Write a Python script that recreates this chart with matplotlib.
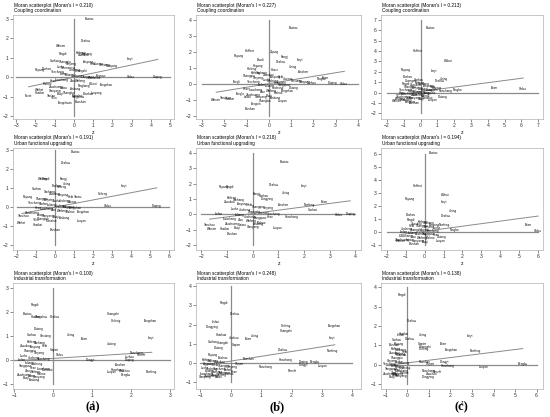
import matplotlib
matplotlib.use('Agg')
import matplotlib.pyplot as plt

plt.rcParams['font.family'] = ['Liberation Sans', 'DejaVu Sans']

# ---- data (standardized z, spatial lag Wz) ----
morans_i = [0.210, 0.227, 0.213, 0.191, 0.218, 0.194, 0.100, 0.248, 0.138]
subtitles = ["Coupling coordination"] * 3 + ["Urban functional upgrading"] * 3 + \
            ["Industrial transformation"] * 3
fit_intercepts = [0.0, 0.01, 0.1, 0.0, 0.05, 0.08, 0.08, 0.1, 0.1]
panel_letters = ["(a)", "(b)", "(c)"]

x_ticks = [range(-3, 6), range(-3, 5), range(-2, 8),
           range(-2, 7), range(-2, 5), range(-2, 7),
           range(-1, 4), range(-1, 5), range(-1, 7)]
y_ticks = [range(-2, 4), range(-2, 5), range(-2, 8),
           range(-2, 4), range(-2, 5), range(-1, 7),
           range(-1, 4), range(-1, 5), range(-1, 5)]
x_lims = [(-3.16, 5.2), (-3.27, 4.14), (-2.35, 7.28),
          (-2.21, 6.24), (-2.21, 4.22), (-2.3, 6.25),
          (-1.03, 3.11), (-1.14, 4.28), (-1.23, 6.3)]
y_lims = [(-2.15, 3.2), (-2.2, 4.3), (-2.55, 7.48),
          (-2.26, 3.12), (-2.32, 4.31), (-1.35, 6.44),
          (-1.19, 3.21), (-1.35, 4.16), (-1.25, 4.23)]

a1 = [("Baotou", 0.81, 2.98), ("Dezhou", 0.61, 1.88), ("Weinan", -0.66, 1.63), ("Pingdi", -0.57, 1.20),
      ("Kaifeng", 0.35, 1.25), ("Xuchang", 0.65, 1.20), ("Zhoukou", 0.50, 1.12), ("Linyi", 2.90, 0.92),
      ("Ordos", 2.98, 0.03), ("Daqing", 4.36, 0.03), ("Suzhou", -1.00, 0.84), ("Puyang", -1.78, 0.38),
      ("Bozhou", -1.40, 0.43), ("Anyang", 0.75, 0.78), ("Hebi", 1.00, 0.70), ("Jiaozuo", 1.30, 0.66),
      ("Xinxiang", 1.60, 0.62), ("Nanyang", 1.95, 0.58), ("Shangqiu", -0.45, 0.80), ("Xinyang", -0.15, 0.70),
      ("Luohe", -0.70, 0.52), ("Sanmenxia", -0.30, 0.45), ("Jincheng", 0.05, 0.38), ("Changzhi", 0.40, 0.32),
      ("Yuncheng", -0.85, 0.28), ("Linfen", -0.50, 0.18), ("Lvliang", -0.20, 0.12), ("Jinzhong", 0.15, 0.08),
      ("Taiyuan", 1.40, 0.07), ("Yangquan", 0.75, 0.02), ("Shuozhou", 1.05, -0.06), ("Heze", -1.05, -0.22),
      ("Liaocheng", -0.65, -0.15), ("Zibo", -0.05, -0.22), ("Weifang", 0.35, -0.18), ("Rizhao", -1.35, -0.35),
      ("Zaozhuang", -0.90, -0.48), ("Laiwu", -0.55, -0.58), ("Xianyang", -0.95, -0.72), ("Baoji", -0.70, -0.85),
      ("Weihai", -1.80, -0.65), ("Huaibei", -1.75, -0.79), ("Fuxin", -2.35, -0.99), ("Yan'an", -1.15, -0.95),
      ("Yulin", -1.00, -1.08), ("Tongchuan", -0.45, -1.32), ("Baoshan", 0.33, -1.27), ("Ankang", 0.05, -0.62),
      ("Shangluo", -0.25, -0.80), ("Tianshui", 0.20, -0.95), ("Luoyang", 1.16, -0.82), ("Tongzhou", 1.70, -0.39),
      ("Binzhou", 0.73, -0.87), ("Yangzhou", 0.26, -1.04), ("Pingliang", 0.55, -0.45), ("Wuwei", 1.00, -0.35)]

b1 = [("Baotou", 1.09, 3.48), ("Hohhot", -0.86, 2.03), ("Puyang", -1.33, 1.74), ("Ziyang", 0.26, 1.97),
      ("Baodi", -0.35, 1.49), ("Fangji", 0.71, 1.66), ("Dezhou", 0.56, 1.35), ("Linyi", 1.38, 1.51),
      ("Jining", 1.09, 1.04), ("Anshan", 1.55, 0.72), ("Huaxi", 0.24, 0.87), ("Hegang", -0.50, 1.14),
      ("Haifeng", -0.77, 0.93), ("Taian", 2.55, 0.37), ("Ningbo", 2.36, 0.27), ("Daqing", 2.85, 0.04),
      ("Ordos", 3.39, 0.00), ("Luzhou", 1.94, 0.04), ("Datong", 1.12, -0.25), ("Tongzhou", 0.85, -0.46),
      ("Luoyan", 0.62, -1.08), ("Baishan", -0.82, -1.55), ("Tongxin", -0.59, -1.26), ("Yanzhou", -1.95, -0.89),
      ("Weinan", -2.36, -1.04), ("Huaibei", -1.73, -0.97), ("Tonglu", -1.27, -0.62), ("Laiwu", -0.97, -0.83),
      ("Tongli", -1.42, 0.14), ("Kaifeng", -0.60, 0.70), ("Xuchang", -0.30, 0.65), ("Zhoukou", 0.00, 0.55),
      ("Anyang", 0.30, 0.45), ("Hebi", 0.55, 0.40), ("Jiaozuo", 0.85, 0.30), ("Xinxiang", 1.25, 0.20),
      ("Nanyang", 1.60, 0.10), ("Shangqiu", -0.90, 0.50), ("Xinyang", -0.45, 0.35), ("Luohe", -0.10, 0.25),
      ("Jincheng", 0.20, 0.15), ("Changzhi", 0.50, 0.05), ("Yuncheng", -0.70, 0.10), ("Linfen", -0.30, -0.05),
      ("Lvliang", 0.05, -0.15), ("Jinzhong", 0.40, -0.25), ("Yangquan", 0.70, -0.10), ("Heze", -1.00, -0.30),
      ("Liaocheng", -0.60, -0.40), ("Zibo", -0.25, -0.50), ("Weifang", 0.10, -0.45), ("Rizhao", 0.45, -0.55),
      ("Zaozhuang", -0.70, -0.70), ("Xianyang", -0.35, -0.85), ("Baoji", 0.00, -0.75), ("Ankang", 0.30, -0.90),
      ("Shangluo", -0.15, -1.05)]

c1 = [("Baotou", 0.58, 6.20), ("Hohhot", -0.18, 3.98), ("Wuhai", 1.63, 3.06), ("Puyang", -0.87, 2.13),
      ("Linyi", 0.78, 2.04), ("Bozhou", -0.78, 1.50), ("Jining", 1.41, 1.34), ("Dezhou", 1.13, 1.11),
      ("Guangan", -0.58, 1.11), ("Pingdi", -0.87, 0.86), ("Taian", 4.41, 0.48), ("Ordos", 6.10, 0.32),
      ("Ningbo", 2.17, 0.22), ("Nanchang", 1.47, 0.13), ("Datong", 1.31, -0.41), ("Luoyan", 0.72, -0.73),
      ("Weinan", -1.41, -0.83), ("Tongxin", -0.62, -0.89), ("Baishan", -0.36, -0.96), ("Xuzhou", -0.12, 1.24),
      ("Kaifeng", -0.05, 0.95), ("Xuchang", 0.20, 0.80), ("Zhoukou", -0.30, 0.70), ("Anyang", 0.45, 0.60),
      ("Hebi", 0.75, 0.50), ("Jiaozuo", 1.00, 0.40), ("Shangqiu", -0.60, 0.50), ("Xinyang", -0.20, 0.40),
      ("Luohe", 0.10, 0.35), ("Jincheng", 0.40, 0.25), ("Changzhi", 0.70, 0.20), ("Yuncheng", -0.90, 0.25),
      ("Linfen", -0.50, 0.15), ("Lvliang", -0.15, 0.05), ("Jinzhong", 0.20, 0.00), ("Yangquan", 0.55, -0.05),
      ("Heze", -1.10, -0.05), ("Liaocheng", -0.75, -0.15), ("Zibo", -0.40, -0.20), ("Weifang", -0.05, -0.25),
      ("Rizhao", 0.30, -0.30), ("Zaozhuang", -1.00, -0.40), ("Laiwu", -0.65, -0.50), ("Xianyang", -0.30, -0.55),
      ("Baoji", 0.05, -0.60), ("Ankang", -1.20, -0.65), ("Shangluo", -0.85, -0.70), ("Tianshui", 0.40, -0.55)]

a2 = [("Baotou", 1.06, 2.91), ("Dezhou", 0.58, 2.32), ("Weinan", -0.65, 1.51), ("Pingdi", -0.50, 1.50),
      ("Fangji", 0.45, 1.46), ("Jining", 0.62, 1.21), ("Bozhou", 0.10, 1.10), ("Kaifeng", 0.35, 1.05),
      ("Suzhou", -0.95, 0.98), ("Linyi", 3.59, 1.12), ("Suifeng", 2.49, 0.72), ("Ordos", 2.75, 0.05),
      ("Daqing", 5.34, 0.05), ("Puyang", -1.44, 0.51), ("Yantai", 1.23, 0.53), ("Tangshan", 1.06, -0.04),
      ("Tongzhou", 1.49, -0.28), ("Luoyan", 1.40, -0.74), ("Baishan", 0.01, -1.18), ("Weihai", -1.74, -0.86),
      ("Yanzhou", -1.65, -0.47), ("Huaibei", -0.92, -0.95), ("Xuchang", -0.30, 0.80), ("Zhoukou", 0.00, 0.70),
      ("Anyang", 0.40, 0.62), ("Hebi", 0.80, 0.55), ("Shangqiu", -0.70, 0.45), ("Xinyang", -0.30, 0.40),
      ("Luohe", 0.10, 0.35), ("Jincheng", 0.50, 0.30), ("Jiaozuo", 0.90, 0.25), ("Yuncheng", -1.10, 0.20),
      ("Linfen", -0.60, 0.15), ("Lvliang", -0.20, 0.10), ("Jinzhong", 0.30, 0.05), ("Yangquan", 0.70, 0.00),
      ("Heze", -0.90, -0.05), ("Liaocheng", -0.45, -0.10), ("Zibo", -0.05, -0.15), ("Weifang", 0.40, -0.20),
      ("Rizhao", 0.80, -0.25), ("Zaozhuang", -1.20, -0.30), ("Laiwu", -0.75, -0.40), ("Xianyang", -0.35, -0.45),
      ("Baoji", 0.05, -0.50), ("Ankang", 0.45, -0.55), ("Shangluo", -0.60, -0.65), ("Tianshui", -0.20, -0.75),
      ("Yulin", -1.00, -0.70)]

b2 = [("Baotou", 1.24, 3.43), ("Puyang", -1.13, 1.80), ("Pingdi", -0.87, 1.80), ("Dezhou", 0.82, 1.88),
      ("Linyi", 2.00, 1.82), ("Jining", 1.30, 1.38), ("Fangji", 0.15, 1.30), ("Xuzhou", 0.45, 1.20),
      ("Dongying", 0.55, 1.00), ("Taian", 2.79, 0.79), ("Nanfeng", 2.22, 0.59), ("Suzhou", 2.36, 0.29),
      ("Anshan", 1.17, 0.59), ("Ordos", 3.37, -0.02), ("Daqing", 3.80, 0.04), ("Hanzhong", 1.50, -0.19),
      ("Luoyan", 0.97, -0.88), ("Baishan", -0.80, -1.26), ("Yanzhou", -1.68, -0.67), ("Weinan", -1.59, -0.94),
      ("Huaibei", -1.07, -0.94), ("Kaifeng", -0.80, 1.05), ("Xuchang", -0.55, 0.95), ("Zhoukou", -0.90, 0.80),
      ("Anyang", -0.40, 0.70), ("Hebi", -0.10, 0.60), ("Shangqiu", 0.20, 0.50), ("Xinyang", 0.60, 0.40),
      ("Luohe", -0.70, 0.35), ("Jincheng", -0.30, 0.25), ("Changzhi", 0.05, 0.15), ("Jiaozuo", 0.40, 0.10),
      ("Yuncheng", 0.80, 0.05), ("Linfen", -1.30, 0.05), ("Lvliang", -0.50, -0.05), ("Jinzhong", -0.10, -0.15),
      ("Yangquan", 0.30, -0.25), ("Heze", 0.70, -0.20), ("Liaocheng", -0.90, -0.30), ("Zibo", -0.45, -0.40),
      ("Weifang", -0.05, -0.45), ("Rizhao", 0.35, -0.55), ("Zaozhuang", -0.80, -0.60), ("Laiwu", -0.40, -0.70),
      ("Xianyang", 0.00, -0.80), ("Baoji", -0.60, -0.90), ("Ankang", 0.20, -0.65)]

c2 = [("Baotou", 0.48, 6.02), ("Hohhot", -0.37, 3.56), ("Wuhai", 1.10, 2.83), ("Puyang", -0.76, 2.56),
      ("Linyi", 1.01, 2.31), ("Jining", 1.48, 1.62), ("Bozhou", -0.71, 1.35), ("Dezhou", 1.10, 1.23),
      ("Pingdi", -0.72, 0.93), ("Taian", 5.51, 0.59), ("Ordos", 5.99, 0.12), ("Ningbo", 1.59, 0.17),
      ("Nanfeng", 1.04, 0.54), ("Datong", 0.87, -0.32), ("Luoyan", 0.83, -0.64), ("Kaifeng", -0.10, 0.80),
      ("Xuchang", 0.20, 0.70), ("Zhoukou", -0.40, 0.65), ("Anyang", 0.50, 0.55), ("Hebi", -0.70, 0.50),
      ("Shangqiu", -0.15, 0.45), ("Xinyang", 0.25, 0.40), ("Luohe", 0.65, 0.30), ("Jincheng", -0.90, 0.25),
      ("Changzhi", -0.45, 0.20), ("Jiaozuo", 0.00, 0.15), ("Yuncheng", 0.40, 0.10), ("Linfen", -1.10, 0.00),
      ("Lvliang", -0.65, -0.05), ("Jinzhong", -0.20, -0.10), ("Yangquan", 0.20, -0.15), ("Heze", 0.60, -0.20),
      ("Liaocheng", -1.00, -0.30), ("Zibo", -0.55, -0.35), ("Weifang", -0.10, -0.40), ("Rizhao", 0.30, -0.45),
      ("Zaozhuang", -1.20, -0.55), ("Laiwu", -0.80, -0.60), ("Xianyang", -0.35, -0.70), ("Baoji", 0.05, -0.75),
      ("Weinan", -1.25, -0.70), ("Baishan", -0.55, -0.90)]

a3 = [("Pingdi", -0.46, 2.31), ("Baotou", -0.67, 1.91), ("Huaibei", -0.45, 1.80), ("Yangzhou", -0.30, 1.80),
      ("Dezhou", 0.05, 1.80), ("Changzhi", 1.56, 1.94), ("Chifeng", 1.61, 1.62), ("Tangshan", 2.50, 1.62),
      ("Linyi", 2.52, 0.94), ("Jining", 0.46, 1.07), ("Taian", 0.82, 0.90), ("Jiaxing", 1.51, 0.66),
      ("Datong", -0.37, 1.32), ("Suzhou", -0.55, 1.07), ("Xinxiang", -0.20, 1.01), ("Suqian", 0.03, 0.42),
      ("Ordos", 0.18, 0.21), ("Dongyi", 0.96, 0.03), ("Nanchong", 2.14, 0.32), ("Panzhi", 2.26, 0.24),
      ("Luzhou", 1.97, 0.13), ("Daqing", 1.97, 0.03), ("Anshan", 1.73, -0.20), ("Hanzhong", 1.67, -0.41),
      ("Luoyan", 1.50, -0.50), ("Zhuzhou", 1.84, -0.45), ("Bengbu", 1.88, -0.61), ("Nanfeng", 2.54, -0.50),
      ("Kaifeng", -0.55, 0.75), ("Xuchang", -0.35, 0.70), ("Zhoukou", -0.70, 0.60), ("Anyang", -0.45, 0.55),
      ("Hebi", -0.20, 0.60), ("Shangqiu", -0.60, 0.40), ("Xinyang", -0.35, 0.30), ("Luohe", -0.75, 0.20),
      ("Jincheng", -0.50, 0.10), ("Yuncheng", -0.25, 0.05), ("Linfen", -0.80, 0.02), ("Lvliang", -0.60, -0.10),
      ("Jinzhong", -0.40, -0.15), ("Yangquan", -0.70, -0.25), ("Heze", -0.50, -0.30), ("Liaocheng", -0.25, -0.35),
      ("Zibo", -0.65, -0.45), ("Weifang", -0.45, -0.50), ("Rizhao", -0.30, -0.55), ("Zaozhuang", -0.75, -0.60),
      ("Laiwu", -0.55, -0.65), ("Xianyang", -0.35, -0.70), ("Baoji", -0.70, -0.75), ("Ankang", -0.50, -0.80),
      ("Tianshui", -0.15, -0.40)]

b3 = [("Pingdi", -0.23, 3.10), ("Dezhou", 0.14, 2.53), ("Lishui", -0.48, 2.14), ("Dongying", -0.62, 1.88),
      ("Chifeng", 1.83, 1.93), ("Changzhi", 1.84, 1.67), ("Tangshan", 3.42, 1.93), ("Linyi", 3.33, 1.28),
      ("Nanfeng", 3.33, 0.61), ("Jining", 0.80, 1.42), ("Taian", 0.59, 1.23), ("Huaihua", -0.30, 1.44),
      ("Jinzhou", 0.12, 1.28), ("Suqian", 0.18, 0.96), ("Suzhou", -0.59, 1.10), ("Changde", -0.26, 1.04),
      ("Datong", -0.39, 0.79), ("Dazhou", 1.73, 0.67), ("Puyang", -0.59, 0.44), ("Taizhou", -0.26, 0.26),
      ("Baoshan", 0.58, 0.21), ("Hanzhong", 1.82, 0.18), ("Shiyan", 0.28, -0.05), ("Daqing", 2.40, 0.04),
      ("Dongyi", 2.38, -0.09), ("Bengbu", 2.75, 0.05), ("Luoyan", 3.02, -0.14), ("Nanchong", 1.14, -0.23),
      ("Panzhi", 2.01, -0.44), ("Kaifeng", -0.80, 0.15), ("Xuchang", -0.60, 0.10), ("Zhoukou", -0.35, 0.05),
      ("Anyang", -0.75, -0.05), ("Hebi", -0.50, -0.10), ("Shangqiu", -0.20, -0.15), ("Xinyang", 0.05, -0.20),
      ("Luohe", -0.85, -0.25), ("Jincheng", -0.60, -0.30), ("Yuncheng", -0.35, -0.30), ("Linfen", -0.10, -0.35),
      ("Lvliang", -0.70, -0.40), ("Jinzhong", -0.45, -0.45), ("Yangquan", -0.20, -0.50), ("Heze", 0.10, -0.45),
      ("Liaocheng", -0.80, -0.55), ("Zibo", -0.55, -0.60), ("Weifang", -0.30, -0.60), ("Rizhao", -0.05, -0.55),
      ("Zaozhuang", -0.65, -0.70), ("Laiwu", -0.40, -0.75), ("Xianyang", -0.85, -0.75)]

c3 = [("Pingdi", -0.24, 3.59), ("Dezhou", 0.21, 2.28), ("Huaibei", -0.17, 1.59), ("Lishui", -0.30, 1.55),
      ("Jining", 0.70, 1.53), ("Linyi", 2.92, 1.48), ("Taian", 1.70, 1.06), ("Tangshan", 2.04, 0.78),
      ("Nanfeng", 3.15, 0.73), ("Suqian", 0.70, 1.06), ("Changzhi", 0.82, 0.92), ("Chifeng", 0.79, 0.84),
      ("Dazhou", 0.09, 1.36), ("Suzhou", -0.47, 1.27), ("Puyang", -0.40, 1.10), ("Baishan", -0.62, 1.05),
      ("Huaihua", -0.29, 0.49), ("Baoshan", 0.82, 0.17), ("Shiyan", 1.05, 0.05), ("Dongyi", 1.74, 0.14),
      ("Hanzhong", 1.89, -0.07), ("Luoyan", 3.53, -0.12), ("Bengbu", 5.36, 0.02), ("Nanchong", 0.97, -0.30),
      ("Panzhi", 1.39, -0.35), ("Zhuzhou", 1.13, -0.47), ("Dongying", 0.97, -0.61), ("Kaifeng", -0.55, 0.80),
      ("Xuchang", -0.30, 0.75), ("Zhoukou", -0.60, 0.60), ("Anyang", -0.35, 0.55), ("Hebi", -0.10, 0.65),
      ("Shangqiu", -0.50, 0.35), ("Xinyang", -0.70, 0.20), ("Luohe", -0.40, 0.15), ("Jincheng", -0.15, 0.10),
      ("Yuncheng", -0.85, 0.05), ("Linfen", -0.60, -0.05), ("Lvliang", -0.35, -0.10), ("Jinzhong", -0.10, -0.15),
      ("Yangquan", -0.75, -0.20), ("Heze", -0.50, -0.25), ("Liaocheng", -0.25, -0.30), ("Zibo", -0.65, -0.40),
      ("Weifang", -0.40, -0.45), ("Rizhao", -0.15, -0.40), ("Zaozhuang", -0.80, -0.50), ("Laiwu", -0.55, -0.55),
      ("Xianyang", -0.30, -0.60), ("Baoji", -0.70, -0.65)]

panels = [a1, b1, c1, a2, b2, c2, a3, b3, c3]

# ---- layout in pixels ----
W, H = 550, 417
col_left = [13, 196, 381]
col_right = [174, 361, 543]
row_top = [15, 148, 283]
row_bot = [119, 250, 389]
line_col = '#8a8a8a'

fig = plt.figure(figsize=(W / 100, H / 100), dpi=100)

for k, pts in enumerate(panels):
    r, c = divmod(k, 3)
    l, rt, t, b = col_left[c], col_right[c], row_top[r], row_bot[r]
    ax = fig.add_axes([l / W, 1 - b / H, (rt - l) / W, (b - t) / H])
    ax.set_xlim(*x_lims[k])
    ax.set_ylim(*y_lims[k])
    xt, yt = list(x_ticks[k]), list(y_ticks[k])

    # reference lines and fitted line (slope = Moran's I)
    ax.plot([xt[0], xt[-1]], [0, 0], color=line_col, lw=0.9, zorder=1)
    ax.plot([0, 0], [yt[0], yt[-1]], color=line_col, lw=0.9, zorder=1)
    xs = [p[1] for p in pts]
    x0, x1 = min(xs), max(xs)
    ax.plot([x0, x1], [morans_i[k] * x0 + fit_intercepts[k], morans_i[k] * x1 + fit_intercepts[k]],
            color=line_col, lw=0.7, zorder=1)

    for name, x, y in pts:
        ax.text(x, y, name, fontsize=2.1, ha='center', va='center', color='black', zorder=3)

    ax.set_xticks(xt)
    ax.set_yticks(yt)
    ax.tick_params(labelsize=3.6, length=2, width=0.4, pad=1, colors='#333333')
    for s in ax.spines.values():
        s.set_color('#b0b0b0')
        s.set_linewidth(0.5)
    ax.set_xlabel('z', fontsize=3.6, labelpad=1)

    fig.text((l + 1) / W, 1 - (t - 10) / H, "Moran scatterplot (Moran's I = %.3f)" % morans_i[k],
             fontsize=3.4, ha='left', va='center')
    fig.text((l + 1) / W, 1 - (t - 4.5) / H, subtitles[k], fontsize=3.4, ha='left', va='center')

for c, lab in enumerate(panel_letters):
    fig.text(((col_left[c] + col_right[c]) / 2 - 1) / W, 1 - 407 / H, lab,
             family=['Liberation Serif', 'DejaVu Serif'], fontsize=9, fontweight='bold',
             ha='center', va='center')

fig.savefig('out.png', dpi=100)
